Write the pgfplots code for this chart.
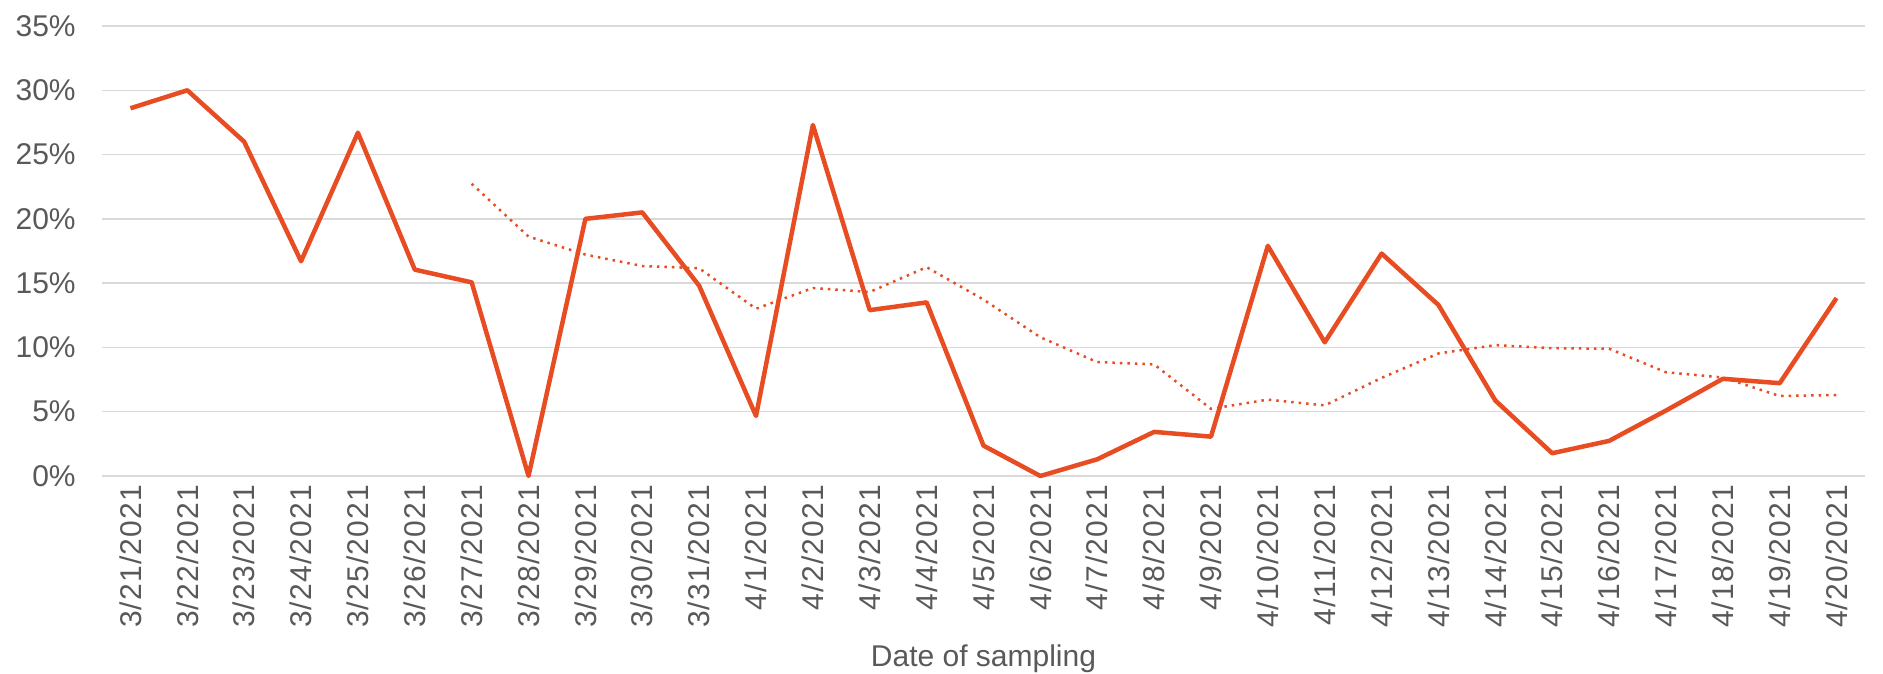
\documentclass[border=0pt]{standalone}
\usepackage{pgfplots}
\pgfplotsset{compat=1.18}
\usepackage{fontspec}
\setmainfont{Liberation Sans}
\usepackage{pgfplotstable}

\definecolor{lineorange}{RGB}{232,76,34}
\definecolor{gridgray}{RGB}{217,217,217}
\definecolor{textgray}{RGB}{89,89,89}

% day index, share (%), 7-day moving average (%)
\pgfplotstableread{
x  val    avg
0  28.6   nan
1  30.0   nan
2  26.0   nan
3  16.7   nan
4  26.7   nan
5  16.05  nan
6  15.06  22.73
7  0.0    18.62
8  20.0   17.22
9  20.5   16.33
10 14.8   16.16
11 4.67   13.01
12 27.3   14.62
13 12.9   14.31
14 13.5   16.24
15 2.36   13.72
16 0.0    10.79
17 1.3    8.86
18 3.43   8.68
19 3.06   5.22
20 17.9   5.94
21 10.4   5.49
22 17.3   7.63
23 13.3   9.53
24 5.87   10.18
25 1.77   9.94
26 2.73   9.90
27 5.09   8.07
28 7.56   7.66
29 7.22   6.22
30 13.84  6.30
}\sampling

\begin{document}
\begin{tikzpicture}
\useasboundingbox (-40.8pt,-79.2pt) rectangle (712.4pt,190.4pt);
\begin{axis}[
    scale only axis,
    width=705.2pt, height=180pt,
    xmin=-0.5, xmax=30.5,
    ymin=0, ymax=35,
    xtick={0,...,30},
    xticklabels={3/21/2021,3/22/2021,3/23/2021,3/24/2021,3/25/2021,3/26/2021,3/27/2021,3/28/2021,3/29/2021,3/30/2021,3/31/2021,4/1/2021,4/2/2021,4/3/2021,4/4/2021,4/5/2021,4/6/2021,4/7/2021,4/8/2021,4/9/2021,4/10/2021,4/11/2021,4/12/2021,4/13/2021,4/14/2021,4/15/2021,4/16/2021,4/17/2021,4/18/2021,4/19/2021,4/20/2021},
    ytick={0,5,...,35},
    yticklabels={0\%,5\%,10\%,15\%,20\%,25\%,30\%,35\%},
    /pgf/number format/assume math mode=true,
    axis line style={draw=none},
    major tick length=0pt,
    ymajorgrids=true,
    grid style={gridgray, line width=0.6pt},
    tick label style={font=\fontsize{12}{14}\selectfont, text=textgray},
    x tick label style={rotate=90, anchor=east, font=\fontsize{12}{14}\selectfont\addfontfeatures{LetterSpace=4}},
    y tick label style={xshift=-7pt},
    xlabel={Date of sampling},
    xlabel style={font=\fontsize{12}{14}\selectfont, text=textgray},
    clip=false,
]
\addplot[lineorange, line width=1.8pt, line join=round] table[x=x, y=val] {\sampling};
\addplot[lineorange, line width=1pt, dotted, unbounded coords=jump] table[x=x, y=avg] {\sampling};
\end{axis}
\end{tikzpicture}
\end{document}
